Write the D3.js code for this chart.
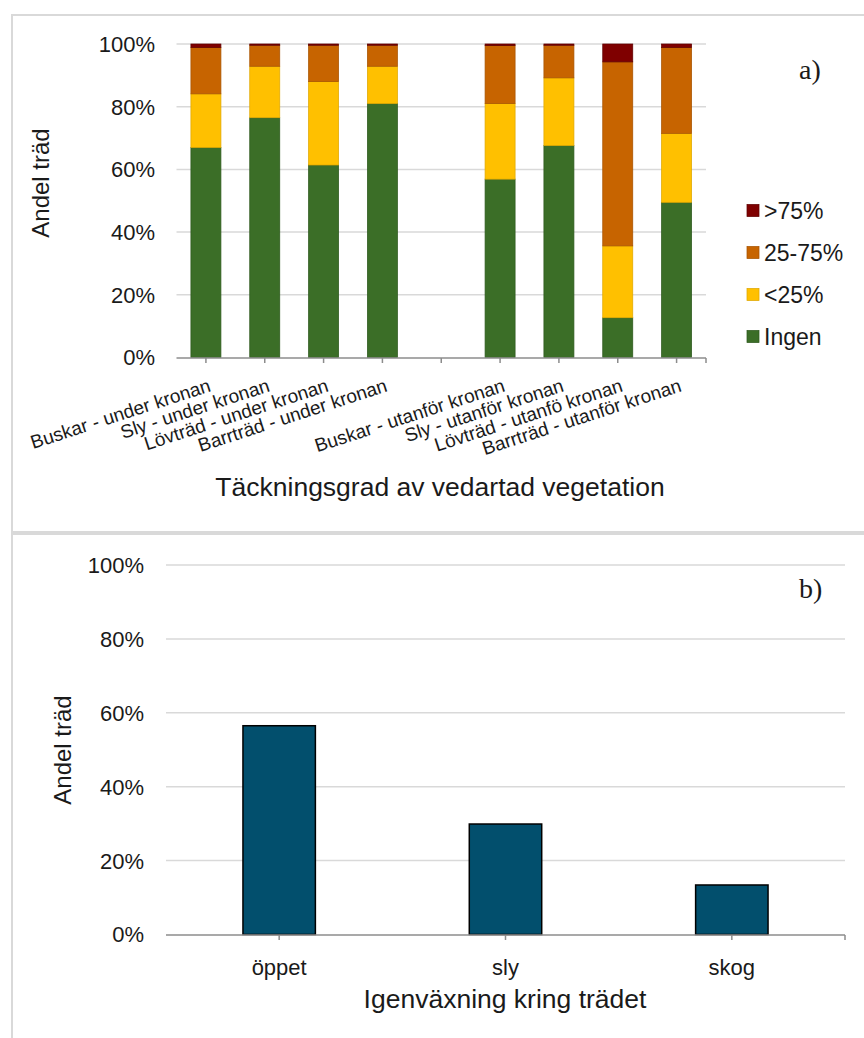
<!DOCTYPE html>
<html>
<head>
<meta charset="utf-8">
<script src="https://cdn.jsdelivr.net/npm/d3@7"></script>
<style>
  body { margin: 0; background: #fff; }
  text { font-family: "Liberation Sans", Arial, sans-serif; fill: #1a1a1a; }
</style>
</head>
<body>
<script>
// Panel a) data: share of trees per cover class of woody vegetation
var categories = ["Buskar - under kronan", "Sly - under kronan", "Lövträd - under kronan", "Barrträd - under kronan", "",
                  "Buskar - utanför kronan", "Sly - utanför kronan", "Lövträd - utanfö kronan", "Barrträd - utanför kronan"];
var ingen   = [67.0, 76.5, 61.4, 81.0, 0, 56.9, 67.6, 12.7, 49.5];
var under25 = [17.1, 16.4, 26.6, 11.9, 0, 24.1, 21.6, 22.9, 22.0];
var mid2575 = [14.8, 6.7, 11.6, 6.7, 0, 18.5, 10.4, 58.7, 27.4];
var over75  = [1.1, 0.4, 0.4, 0.4, 0, 0.5, 0.4, 5.7, 1.1];
var seriesNames = ["Ingen", "<25%", "25-75%", ">75%"];

// Panel b) data: overgrowth around the tree
var growthCats = ["öppet", "sly", "skog"];
var growthVals = [56.5, 29.9, 13.4];

var yTicks = [0, 20, 40, 60, 80, 100];

var colors = { "Ingen": "#3b6e27", "<25%": "#ffc000", "25-75%": "#c76400", ">75%": "#7f0000" };
var strokes = { "Ingen": "#2e5a1e", "<25%": "#e0a800", "25-75%": "#a85400", ">75%": "#600000" };

var svg = d3.select("body").append("svg")
    .attr("width", 864)
    .attr("height", 1038);

svg.append("rect").attr("width", 864).attr("height", 1038).attr("fill", "#fff");

// panel frames
svg.append("rect").attr("x", 12).attr("y", 15).attr("width", 870).attr("height", 517)
    .attr("fill", "none").attr("stroke", "#d9d9d9").attr("stroke-width", 2);
svg.append("rect").attr("x", 12).attr("y", 534).attr("width", 870).attr("height", 520)
    .attr("fill", "none").attr("stroke", "#d9d9d9").attr("stroke-width", 2);

// ---------- panel a ----------
var xa = d3.scaleBand().domain(categories).range([176.5, 706]).paddingInner(0.49).paddingOuter(0.245);
var ya = d3.scaleLinear().domain([0, 100]).range([357.5, 44]);

var ga = svg.append("g");

// gridlines
ga.selectAll(".grid").data(yTicks.slice(1)).enter().append("line")
    .attr("x1", 176.5).attr("x2", 706)
    .attr("y1", function (d) { return ya(d); }).attr("y2", function (d) { return ya(d); })
    .attr("stroke", "#d9d9d9").attr("stroke-width", 1.5);

// y tick labels
ga.selectAll(".ylab").data(yTicks).enter().append("text")
    .attr("x", 155).attr("y", function (d) { return ya(d); })
    .attr("dy", "0.36em").attr("text-anchor", "end")
    .style("font-size", "22px")
    .text(function (d) { return d + "%"; });

// stacked bars
var rows = categories.map(function (c, i) {
    return { cat: c, "Ingen": ingen[i], "<25%": under25[i], "25-75%": mid2575[i], ">75%": over75[i] };
});
var stacked = d3.stack().keys(seriesNames)(rows);

ga.selectAll(".series").data(stacked).enter().append("g")
    .attr("fill", function (s) { return colors[s.key]; })
    .attr("stroke", function (s) { return strokes[s.key]; })
    .attr("stroke-width", 0.75)
    .selectAll("rect").data(function (s) { return s.filter(function (d) { return d[1] > d[0]; }); })
    .enter().append("rect")
    .attr("x", function (d) { return xa(d.data.cat); })
    .attr("width", xa.bandwidth())
    .attr("y", function (d) { return ya(d[1]); })
    .attr("height", function (d) { return ya(d[0]) - ya(d[1]); });

// x axis line and ticks
ga.append("line").attr("x1", 176.5).attr("x2", 706).attr("y1", 358).attr("y2", 358)
    .attr("stroke", "#8c8c8c").attr("stroke-width", 1.5);
var tickXa = categories.map(function (c) { return xa(c) + xa.bandwidth() / 2; }).concat([706]);
ga.selectAll(".xtick").data(tickXa).enter().append("line")
    .attr("x1", function (d) { return d; }).attr("x2", function (d) { return d; })
    .attr("y1", 358).attr("y2", 363)
    .attr("stroke", "#8c8c8c").attr("stroke-width", 1.5);

// rotated category labels
ga.selectAll(".xlab").data(categories).enter().append("text")
    .attr("text-anchor", "end")
    .attr("transform", function (d) {
        return "translate(" + (xa(d) + xa.bandwidth() / 2 + 6) + ",391) rotate(-18)";
    })
    .style("font-size", "19px")
    .text(function (d) { return d; });

// axis titles
ga.append("text").attr("x", 440).attr("y", 496).attr("text-anchor", "middle")
    .style("font-size", "26.5px").text("Täckningsgrad av vedartad vegetation");
ga.append("text").attr("transform", "translate(49,183) rotate(-90)").attr("text-anchor", "middle")
    .style("font-size", "24px").text("Andel träd");

// legend
var legendNames = seriesNames.slice().reverse();
var leg = ga.selectAll(".leg").data(legendNames).enter().append("g")
    .attr("transform", function (d, i) { return "translate(747," + (210.5 + i * 42) + ")"; });
leg.append("rect").attr("x", 0).attr("y", -6).attr("width", 12).attr("height", 12)
    .attr("fill", function (d) { return colors[d]; })
    .attr("stroke", function (d) { return strokes[d]; }).attr("stroke-width", 0.75);
leg.append("text").attr("x", 17).attr("dy", "0.36em")
    .style("font-size", "23px").text(function (d) { return d; });

ga.append("text").attr("x", 799).attr("y", 79)
    .style("font-family", "'Liberation Serif', 'Times New Roman', serif").style("font-size", "28px")
    .text("a)");

// ---------- panel b ----------
var xb = d3.scaleBand().domain(growthCats).range([166, 845]).paddingInner(0.68).paddingOuter(0.34);
var yb = d3.scaleLinear().domain([0, 100]).range([934.5, 565]);

var gb = svg.append("g");

gb.selectAll(".grid").data(yTicks.slice(1)).enter().append("line")
    .attr("x1", 166).attr("x2", 845)
    .attr("y1", function (d) { return yb(d); }).attr("y2", function (d) { return yb(d); })
    .attr("stroke", "#d9d9d9").attr("stroke-width", 1.5);

gb.selectAll(".ylab").data(yTicks).enter().append("text")
    .attr("x", 144).attr("y", function (d) { return yb(d); })
    .attr("dy", "0.36em").attr("text-anchor", "end")
    .style("font-size", "22px")
    .text(function (d) { return d + "%"; });

gb.selectAll(".bar").data(growthCats).enter().append("rect")
    .attr("x", function (d) { return xb(d); })
    .attr("width", xb.bandwidth())
    .attr("y", function (d, i) { return yb(growthVals[i]); })
    .attr("height", function (d, i) { return yb(0) - yb(growthVals[i]); })
    .attr("fill", "#024f6d").attr("stroke", "#000").attr("stroke-width", 1.5);

gb.append("line").attr("x1", 166).attr("x2", 845).attr("y1", 935).attr("y2", 935)
    .attr("stroke", "#8c8c8c").attr("stroke-width", 1.5);
var tickXb = growthCats.map(function (c) { return xb(c) + xb.bandwidth() / 2; }).concat([845]);
gb.selectAll(".xtick").data(tickXb).enter().append("line")
    .attr("x1", function (d) { return d; }).attr("x2", function (d) { return d; })
    .attr("y1", 935).attr("y2", 940)
    .attr("stroke", "#8c8c8c").attr("stroke-width", 1.5);

gb.selectAll(".xlab").data(growthCats).enter().append("text")
    .attr("x", function (d) { return xb(d) + xb.bandwidth() / 2; })
    .attr("y", 975).attr("text-anchor", "middle")
    .style("font-size", "22px").text(function (d) { return d; });

gb.append("text").attr("x", 505).attr("y", 1008).attr("text-anchor", "middle")
    .style("font-size", "26.5px").text("Igenväxning kring trädet");
gb.append("text").attr("transform", "translate(71,750) rotate(-90)").attr("text-anchor", "middle")
    .style("font-size", "24px").text("Andel träd");

gb.append("text").attr("x", 799).attr("y", 598)
    .style("font-family", "'Liberation Serif', 'Times New Roman', serif").style("font-size", "28px")
    .text("b)");
</script>
</body>
</html>
